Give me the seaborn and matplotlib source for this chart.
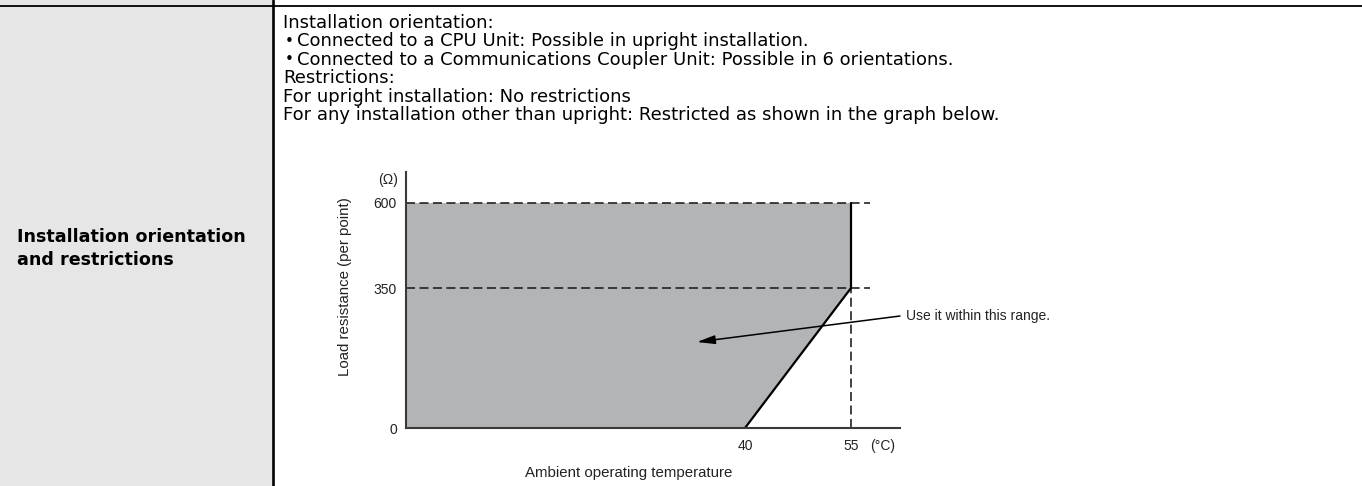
import numpy as np
import matplotlib
matplotlib.use("Agg")
import matplotlib.pyplot as plt
import seaborn as sns

# ---- data -------------------------------------------------------------
# Derating boundary for installations other than upright
DERATE_TEMP = [40, 55, 55]          # ambient temperature (°C)
DERATE_RES = [0, 350, 600]          # max load resistance per point (Ω)
TEMP_MIN = 0
RES_MAX = 600
Y_TICKS = [0, 350, 600]
X_TICKS = [40, 55]

HEADER_LINES = [
    ("", "Installation orientation:"),
    ("•", "Connected to a CPU Unit: Possible in upright installation."),
    ("•", "Connected to a Communications Coupler Unit: Possible in 6 orientations."),
    ("", "Restrictions:"),
    ("", "For upright installation: No restrictions"),
    ("", "For any installation other than upright: Restricted as shown in the graph below."),
]
ROW_TITLE = "Installation orientation\nand restrictions"
Y_LABEL = "Load resistance (per point)"
X_LABEL = "Ambient operating temperature"
NOTE = "Use it within this range."

# ---- style ------------------------------------------------------------
sns.set_theme(style="white")
plt.rcParams["font.family"] = ["Liberation Sans", "DejaVu Sans"]
plt.rcParams["lines.scale_dashes"] = False
TABLE_FONT = ["DejaVu Sans"]

W, H = 1362, 486
fig = plt.figure(figsize=(W / 100, H / 100), dpi=100)
fig.patch.set_facecolor("white")


def fx(px):
    return px / W


def fy(py):
    return 1 - py / H


# table frame: grey header cell, rule lines
fig.patches.append(plt.Rectangle((0, 0), fx(272), 1, transform=fig.transFigure,
                                 facecolor="#e6e6e6", edgecolor="none", zorder=0))
fig.lines.append(plt.Line2D([0, 1], [fy(6), fy(6)], transform=fig.transFigure,
                            color="black", lw=1.3))
fig.lines.append(plt.Line2D([fx(273), fx(273)], [0, 1], transform=fig.transFigure,
                            color="black", lw=1.9))

fig.text(fx(17), fy(248.5), ROW_TITLE, family=TABLE_FONT, fontsize=12.6,
         fontweight="bold", ha="left", va="center", linespacing=1.3, color="black")

base = 28
body_fs = 13
for i, (bullet, line) in enumerate(HEADER_LINES):
    yb = base + i * 18.4
    if bullet:
        fig.text(fx(289.5), fy(yb - 5), bullet, family=TABLE_FONT, fontsize=11,
                 ha="center", va="center", color="black")
        fig.text(fx(297), fy(yb), line, family=TABLE_FONT, fontsize=body_fs,
                 ha="left", va="baseline", color="black")
    else:
        fig.text(fx(283), fy(yb), line, family=TABLE_FONT, fontsize=body_fs,
                 ha="left", va="baseline", color="black")

# ---- derating graph ----------------------------------------------------
ax_left, ax_bottom, ax_right, ax_top = 406, 428, 900, 172
ax = fig.add_axes([fx(ax_left), fy(ax_bottom), fx(ax_right - ax_left),
                   (ax_bottom - ax_top) / H])
ax.set_facecolor("none")

# schematic (non-uniform) axes: piecewise-linear mapping of value -> pixel
xk_val, xk_px = [0, 40, 55, 70], [0, 339, 445, 572]
yk_val, yk_px = [0, 350, 600, 700], [0, 140, 225, 259]
ax.set_xscale("function", functions=(lambda v: np.interp(v, xk_val, xk_px),
                                     lambda p: np.interp(p, xk_px, xk_val)))
ax.set_yscale("function", functions=(lambda v: np.interp(v, yk_val, yk_px),
                                     lambda p: np.interp(p, yk_px, yk_val)))
ax.set_xlim(TEMP_MIN, np.interp(ax_right - ax_left, xk_px, xk_val))
ax.set_ylim(0, np.interp(ax_bottom - ax_top, yk_px, yk_val))

poly_x = [TEMP_MIN] + DERATE_TEMP + [TEMP_MIN]
poly_y = [0] + DERATE_RES + [RES_MAX]
ax.fill(poly_x, poly_y, color="#b3b4b6", lw=0, zorder=1)

dash_kw = dict(color="#222222", lw=1.2, dashes=(6.5, 3.2), zorder=2)
dash_end = np.interp(870 - ax_left, xk_px, xk_val)
for r in Y_TICKS[1:]:
    ax.plot([TEMP_MIN, dash_end], [r, r], **dash_kw)
ax.plot([DERATE_TEMP[1], DERATE_TEMP[1]], [0, DERATE_RES[1]], **dash_kw)

sns.lineplot(x=DERATE_TEMP, y=DERATE_RES, sort=False, estimator=None,
             color="black", lw=1.6, ax=ax, zorder=3)

sns.despine(ax=ax)
for s in ("left", "bottom"):
    ax.spines[s].set_color("#3a3a3a")
    ax.spines[s].set_linewidth(1.5)
    ax.spines[s].set_zorder(4)

ax.set_xticks(X_TICKS)
ax.set_yticks(Y_TICKS)
ax.set_xticklabels([str(v) for v in X_TICKS], fontsize=10, color="#222222")
ax.set_yticklabels([str(v) for v in Y_TICKS], fontsize=10, color="#222222")
ax.tick_params(axis="both", length=0)
ax.tick_params(axis="y", pad=6.5)
ax.tick_params(axis="x", pad=8)
ax.grid(False)

fig.text(fx(388), fy(180), "(Ω)", fontsize=10, ha="center", va="center", color="#222222")
fig.text(fx(883), fy(446), "(°C)", fontsize=10, ha="center", va="center", color="#222222")
fig.text(fx(345), fy(287), Y_LABEL, fontsize=10.8, rotation=90, ha="center",
         va="center", color="#222222")
fig.text(fx(629), fy(473), X_LABEL, fontsize=10.8, ha="center", va="center",
         color="#222222")

ax.annotate("", xy=(697, H - 342), xycoords="figure pixels",
            xytext=(900, H - 316), textcoords="figure pixels",
            arrowprops=dict(arrowstyle="-|>,head_length=0.9,head_width=0.22",
                            color="black", lw=1.1, mutation_scale=12,
                            shrinkA=0, shrinkB=0))
fig.text(fx(906), fy(316), NOTE, fontsize=10, ha="left", va="center", color="#222222")

fig.savefig("out.png", dpi=100)
